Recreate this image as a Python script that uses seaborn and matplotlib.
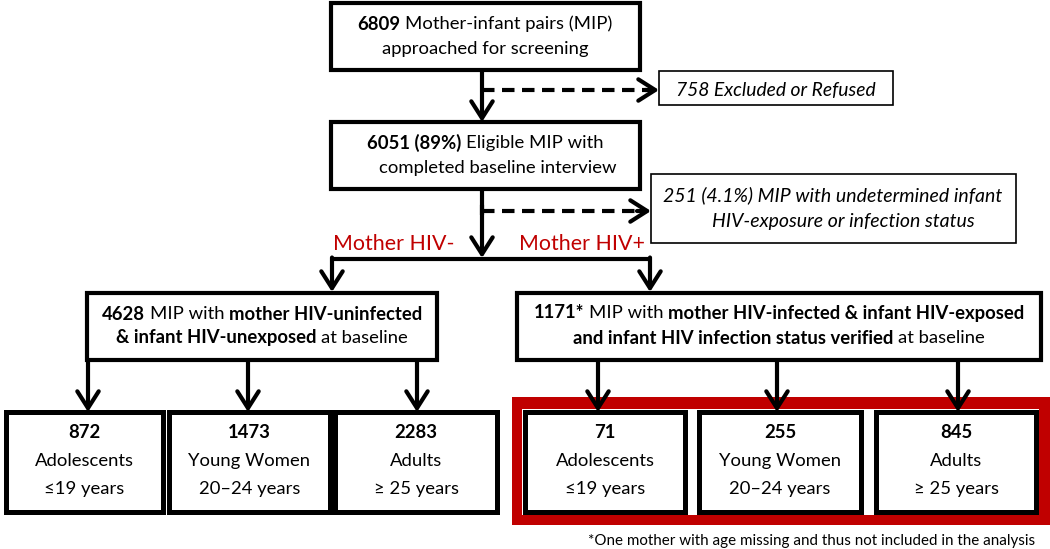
import matplotlib
matplotlib.use("Agg")
import matplotlib.pyplot as plt
from matplotlib.patches import Rectangle
import seaborn as sns

# flowchart numbers
screened = 6809
excluded = 758
eligible = 6051
eligible_pct = "89%"
undetermined = 251
undetermined_pct = "4.1%"
hiv_neg_total = 4628
hiv_pos_total = 1171
age_groups = ["Adolescents", "Young Women", "Adults"]
age_ranges = ["\u226419 years", "20\u201324 years", "\u2265 25 years"]
neg_counts = [872, 1473, 2283]
pos_counts = [71, 255, 845]
branch_labels = ["Mother HIV-", "Mother HIV+"]
footnote = "*One mother with age missing and thus not included in the analysis"

sns.set_theme(style="white")
FONT = ["Lato", "DejaVu Sans"]
plt.rcParams["font.family"] = FONT
RED = "#C00000"
FS = 13.3

fig = plt.figure(figsize=(10.5, 5.49), dpi=100)
ax = fig.add_axes([0, 0, 1, 1])
ax.set_xlim(0, 1050)
ax.set_ylim(549, 0)
ax.axis("off")
renderer = fig.canvas.get_renderer()

LW = 3


def box(x0, y0, x1, y1, lw=LW, fc="white", ec="black", z=2):
    ax.add_patch(Rectangle((x0, y0), x1 - x0, y1 - y0, fc=fc, ec=ec, lw=lw, zorder=z))


def width(t):
    return t.get_window_extent(renderer).width


def rich(cx, y, parts, size=FS, style="normal", color="black"):
    # parts: list of (text, bold); joined by single spaces
    ts = []
    for s, b in parts:
        ts.append(ax.text(0, y, s, fontsize=size, fontweight="bold" if b else "normal",
                          style=style, color=color, ha="left", va="center", zorder=5))
    probe1 = ax.text(0, 0, "x x", fontsize=size)
    probe2 = ax.text(0, 0, "xx", fontsize=size)
    sp = width(probe1) - width(probe2)
    probe1.remove()
    probe2.remove()
    ws = [width(t) for t in ts]
    total = sum(ws) + sp * (len(ts) - 1)
    x = cx - total / 2
    for t, w in zip(ts, ws):
        t.set_x(x)
        x += w + sp


def line(xs, ys):
    ax.plot(xs, ys, color="black", lw=LW, solid_capstyle="butt", zorder=3)


def arrow(x0, y0, x1, y1):
    ax.annotate("", xy=(x1, y1), xytext=(x0, y0),
                arrowprops=dict(arrowstyle="->,head_length=0.55,head_width=0.35",
                                lw=LW, color="black", shrinkA=0, shrinkB=0,
                                mutation_scale=22), zorder=4)


def dashed_arrow(x0, y, x1):
    ax.plot([x0, x1 - 6], [y, y], color="black", lw=LW, ls=(0, (3, 1.8)),
            dash_capstyle="butt", zorder=3)
    arrow(x1 - 14, y, x1, y)


# top boxes
box(331, 3, 640, 70)
rich(485, 24, [(str(screened), True), ("Mother-infant pairs (MIP)", False)])
rich(485, 49, [("approached for screening", False)])

box(331, 122, 640, 189)
rich(485, 143, [(f"{eligible} ({eligible_pct})", True), ("Eligible MIP with", False)])
rich(498, 168, [("completed baseline interview", False)])

# exclusion boxes
box(659, 71, 893, 105, lw=1.2)
rich(776, 90, [(f"{excluded} Excluded or Refused", False)], size=13.9, style="italic")
box(651, 174, 1016, 243, lw=1.2)
rich(833, 195, [(f"{undetermined} ({undetermined_pct}) MIP with undetermined infant", False)],
     size=14, style="italic")
rich(843, 222, [("HIV-exposure or infection status", False)], size=14, style="italic")

# trunk
arrow(482, 70, 482, 122)
dashed_arrow(482, 90, 659)
line([482, 482], [189, 215])
arrow(482, 205, 482, 258)
dashed_arrow(482, 211, 651)
line([332, 650], [259, 259])
arrow(332, 257.5, 332, 292)
arrow(650, 257.5, 650, 292)
ax.text(394, 244, branch_labels[0], color=RED, fontsize=15.4, ha="center", va="center")
ax.text(582, 244, branch_labels[1], color=RED, fontsize=15.4, ha="center", va="center")

# HIV status boxes
box(87, 293, 437, 360)
rich(262, 314, [(str(hiv_neg_total), True), ("MIP with", False), ("mother HIV-uninfected", True)])
rich(262, 338, [("& infant HIV-unexposed", True), ("at baseline", False)])

box(517, 293, 1041, 360)
rich(779, 313, [(f"{hiv_pos_total}*", True), ("MIP with", False),
                ("mother HIV-infected & infant HIV-exposed", True)])
rich(779, 338, [("and infant HIV infection status verified", True), ("at baseline", False)])

# red highlight around HIV+ age groups
ax.add_patch(Rectangle((512, 397), 538, 128, fc=RED, ec="none", zorder=1))
ax.add_patch(Rectangle((522, 409), 517, 106, fc="white", ec="none", zorder=1.5))

neg_boxes = [(6, 163), (169, 330), (335, 497)]
neg_arrows = [88, 248, 417]
pos_boxes = [(525, 685), (699, 861), (876, 1036)]
pos_arrows = [598, 777, 958]

for (x0, x1), xa, n, g, r in zip(neg_boxes, neg_arrows, neg_counts, age_groups, age_ranges):
    arrow(xa, 360, xa, 412)
    box(x0, 412, x1, 512, lw=3.6)
    cx = (x0 + x1) / 2
    rich(cx, 433, [(str(n), True)])
    rich(cx, 461, [(g, False)])
    rich(cx, 489, [(r, False)])

for (x0, x1), xa, n, g, r in zip(pos_boxes, pos_arrows, pos_counts, age_groups, age_ranges):
    arrow(xa, 360, xa, 412)
    box(x0, 412, x1, 512, lw=3.6)
    cx = (x0 + x1) / 2
    rich(cx, 433, [(str(n), True)])
    rich(cx, 461, [(g, False)])
    rich(cx, 489, [(r, False)])

ax.text(1035, 541, footnote, fontsize=10.9, ha="right", va="center", color="black")

fig.savefig("out.png", dpi=100)
